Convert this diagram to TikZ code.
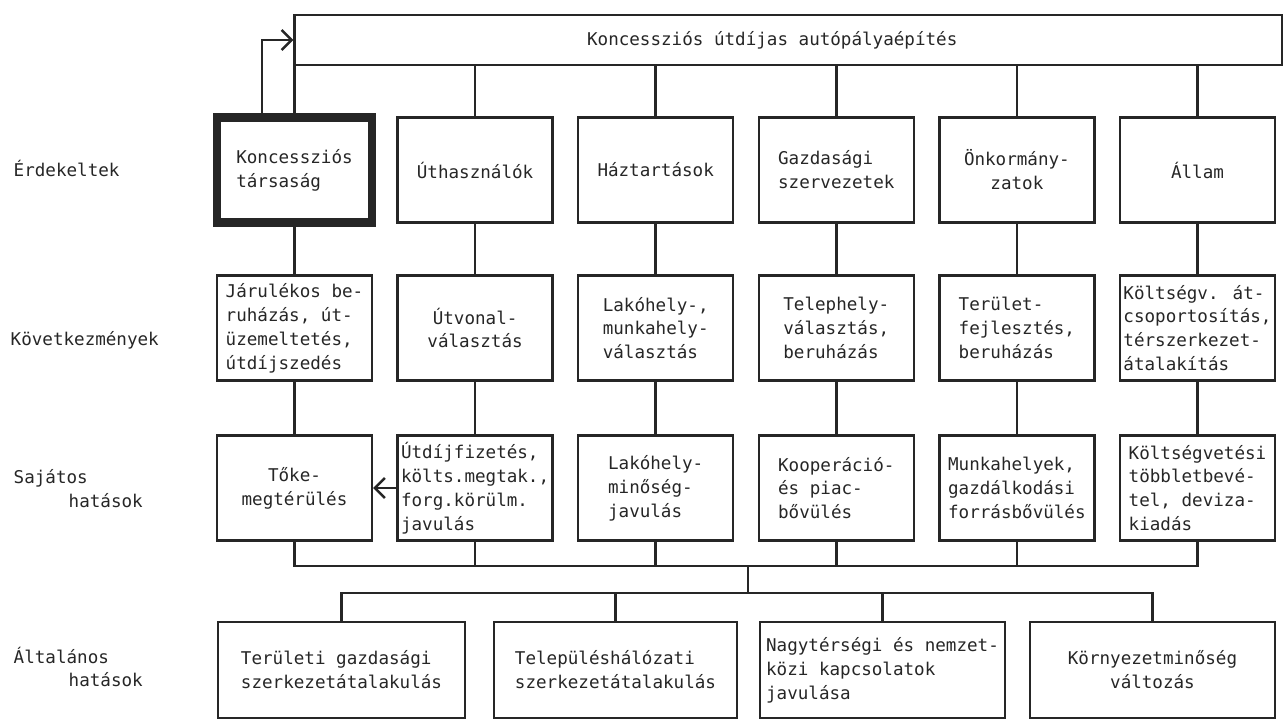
\documentclass[tikz,border=0pt]{standalone}
\usepackage{fontspec}
\newfontfamily\diagfont{DejaVu Sans Mono}
\usetikzlibrary{arrows.meta}
\newcommand\boxfont{\diagfont\fontsize{5pt}{6.8pt}\selectfont}
\tikzset{
	box/.style={draw=black!85, text=black!85, line width=0.7pt, minimum width=1.55cm, minimum height=1.05cm, inner sep=0pt, align=left, font=\boxfont},
	widebox/.style={box, minimum width=2.45cm, minimum height=0.96cm},
	rowlabel/.style={anchor=west, align=left, inner sep=0pt, text=black!85, font=\boxfont},
	link/.style={draw=black!85, line width=0.7pt},
	>={Straight Barb[length=1mm,width=2mm]}
}

\begin{document}
\begin{tikzpicture}
			%%%%% FRAME %%%%%
			\useasboundingbox (0, 0) rectangle (12.86, 7.24);
			
			\node[box, minimum width=9.875cm, minimum height=0.5cm] (top) at (7.8825, 6.84) {Koncessziós útdíjas autópályaépítés\hspace*{0.32cm}};
			
			%%%%% ROW LABELS %%%%%
			\node[rowlabel] (erd) at (0.13, 5.56) {Érdekeltek};
			\node[rowlabel] (kov) at (0.10, 3.84) {Következmények};
			\node[rowlabel] (saj) at (0.13, 2.35) {Sajátos\\\hspace*{0.55cm}hatások};
			\node[rowlabel] (alt) at (0.13, 0.57) {Általános\\\hspace*{0.55cm}hatások};
			
			%%%%% ROW 1 %%%%%
			\node[box, line width=2.3pt] (kon) at (2.945, 5.54) {Koncessziós\\társaság};
			\node[box] (uth) at (4.751, 5.54) {Úthasználók};
			\node[box] (haz) at (6.557, 5.54) {Háztartások};
			\node[box] (gaz) at (8.363, 5.54) {Gazdasági\\szervezetek};
			\node[box, align=center] (onk) at (10.169, 5.54) {Önkormány-\\zatok};
			\node[box] (all) at (11.975, 5.54) {Állam};
			
			%%%%% ROW 2 %%%%%
			\node[box] (jar) at (2.945, 3.96) {Járulékos be-\\ruházás, út-\\üzemeltetés,\\útdíjszedés};
			\node[box, align=center] (utv) at (4.751, 3.96) {Útvonal-\\választás};
			\node[box] (lak) at (6.557, 3.96) {Lakóhely-,\\munkahely-\\választás};
			\node[box] (tel) at (8.363, 3.96) {Telephely-\\választás,\\beruházás};
			\node[box] (ter) at (10.169, 3.96) {Terület-\\fejlesztés,\\beruházás};
			\node[box] (kol) at (11.975, 3.96) {Költségv. át-\\csoportosítás,\\térszerkezet-\\átalakítás};
			
			%%%%% ROW 3 %%%%%
			\node[box, align=center] (tok) at (2.945, 2.36) {Tőke-\\megtérülés};
			\node[box] (dij) at (4.751, 2.36) {Útdíjfizetés,\\költs.megtak.,\\forg.körülm.\\javulás};
			\node[box] (min) at (6.557, 2.36) {Lakóhely-\\minőség-\\javulás};
			\node[box] (koo) at (8.363, 2.36) {Kooperáció-\\és piac-\\bővülés};
			\node[box] (mun) at (10.169, 2.36) {Munkahelyek,\\gazdálkodási\\forrásbővülés};
			\node[box] (tob) at (11.975, 2.36) {Költségvetési\\többletbevé-\\tel, deviza-\\kiadás};
			
			%%%%% ROW 4 %%%%%
			\node[widebox, minimum width=2.47cm] (tgs) at (3.415, 0.54) {Területi gazdasági\\szerkezetátalakulás};
			\node[widebox, minimum width=2.43cm] (tes) at (6.155, 0.54) {Településhálózati\\szerkezetátalakulás};
			\node[widebox] (nag) at (8.825, 0.54) {Nagytérségi és nemzet-\\közi kapcsolatok\\javulása};
			\node[widebox, align=center] (kor) at (11.525, 0.54) {Környezetminőség\\változás};
			
			%%%%% LINKS %%%%%
			\coordinate (fb) at (2.62, 6.84);
			\coordinate (bus1) at (7.48, 1.58);
			\coordinate (bus2) at (7.48, 1.31);
			
			\draw[link, ->] (fb |- kon.north) -- (fb) -- (top.west);
			
			\draw[link] (top.south -| kon.north) -- (kon.north);
			\draw[link] (top.south -| uth.north) -- (uth.north);
			\draw[link] (top.south -| haz.north) -- (haz.north);
			\draw[link] (top.south -| gaz.north) -- (gaz.north);
			\draw[link] (top.south -| onk.north) -- (onk.north);
			\draw[link] (top.south -| all.north) -- (all.north);
			
			\draw[link] (kon) -- (jar);
			\draw[link] (uth) -- (utv);
			\draw[link] (haz) -- (lak);
			\draw[link] (gaz) -- (tel);
			\draw[link] (onk) -- (ter);
			\draw[link] (all) -- (kol);
			
			\draw[link] (jar) -- (tok);
			\draw[link] (utv) -- (dij);
			\draw[link] (lak) -- (min);
			\draw[link] (tel) -- (koo);
			\draw[link] (ter) -- (mun);
			\draw[link] (kol) -- (tob);
			
			\draw[link, ->] (dij.west) -- (tok.east);
			
			\draw[link] (tok.south) |- (bus1) -| (tob.south);
			\draw[link] (dij.south) -- (dij.south |- bus1);
			\draw[link] (min.south) -- (min.south |- bus1);
			\draw[link] (koo.south) -- (koo.south |- bus1);
			\draw[link] (mun.south) -- (mun.south |- bus1);
			\draw[link] (bus1) -- (bus2);
			
			\draw[link] (tgs.north) |- (bus2) -| (kor.north);
			\draw[link] (tes.north) -- (tes.north |- bus2);
			\draw[link] (nag.north) -- (nag.north |- bus2);
			
		\end{tikzpicture}
\end{document}
